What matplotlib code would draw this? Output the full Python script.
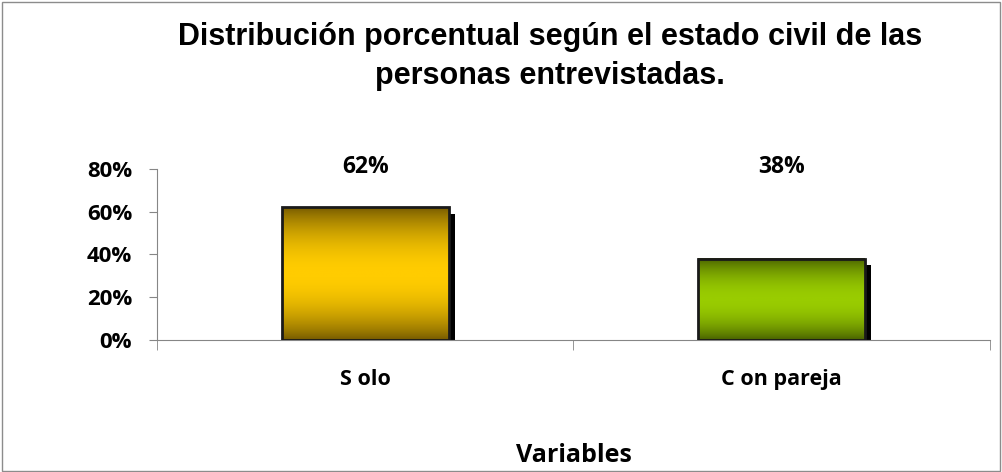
import matplotlib
matplotlib.use("Agg")
import matplotlib.pyplot as plt
import matplotlib.patheffects as pe
from matplotlib.colors import LinearSegmentedColormap
from matplotlib.patches import Rectangle
import numpy as np

# datos
categorias = ["S olo", "C on pareja"]
valores = [0.62, 0.38]
etiquetas = ["62%", "38%"]
yticks = [0, 0.2, 0.4, 0.6, 0.8]
yticklabels = ["0%", "20%", "40%", "60%", "80%"]
titulo = ["Distribución porcentual según el estado civil de las", "personas entrevistadas."]

colores = [("#735800", "#ffcc00"), ("#465e00", "#99cc00")]

fig = plt.figure(figsize=(10.02, 4.72), dpi=100)
fig.patches.append(Rectangle((0.002, 0.002), 0.996, 0.994, transform=fig.transFigure,
                             fill=False, edgecolor="#8c8c8c", linewidth=1))
ax = fig.add_axes([0.1567, 0.2797, 0.8313, 0.3623])

x = np.arange(len(categorias))
ancho = 0.40

# sombra negra + barras
sombra = [pe.SimplePatchShadow(offset=(4.5, -4.5), shadow_rgbFace="black", alpha=1), pe.Normal()]
barras = ax.bar(x, valores, width=ancho, color="black", zorder=2, path_effects=sombra)

# degradado vertical: oscuro arriba y abajo, claro al centro
t = np.linspace(0, 1, 256)
perfil = np.sin(np.pi * t)[:, None] ** 0.8
for b, (oscuro, claro) in zip(barras, colores):
    cmap = LinearSegmentedColormap.from_list("g", [oscuro, claro])
    x0, y0 = b.get_x(), b.get_y()
    ax.imshow(perfil, cmap=cmap, aspect="auto", zorder=3,
              extent=(x0, x0 + b.get_width(), y0, y0 + b.get_height()), origin="lower")
ax.bar(x, valores, width=ancho, facecolor="none", edgecolor="#1a1a1a", linewidth=2, zorder=4)

for xi, et in zip(x, etiquetas):
    ax.text(xi, 0.81, et, ha="center", va="center", fontsize=16.5, fontweight="bold",
            family="Open Sans", clip_on=False)

ax.set_xlim(-0.5, 1.5)
ax.set_ylim(0, 0.8)
ax.set_yticks(yticks)
ax.set_yticklabels(yticklabels, fontsize=16, fontweight="bold", family="Open Sans")
ax.set_xticks(x)
ax.set_xticklabels(categorias, fontsize=15.5, fontweight="bold", family="Open Sans")
ax.set_xticks([-0.5, 0.5, 1.5], minor=True)
ax.tick_params(axis="x", which="major", length=0, pad=21)
ax.tick_params(axis="x", which="minor", length=7, color="#868686")
ax.tick_params(axis="y", length=6, color="#868686", pad=12)
for s in ["top", "right"]:
    ax.spines[s].set_visible(False)
for s in ["left", "bottom"]:
    ax.spines[s].set_color("#868686")
ax.set_xlabel("Variables", fontsize=18, fontweight="bold", family="Open Sans", labelpad=38)

fig.text(0.549, 1 - 45 / 472, titulo[0], ha="center", va="baseline", fontsize=22,
         fontweight="bold", family="Liberation Sans")
fig.text(0.549, 1 - 84 / 472, titulo[1], ha="center", va="baseline", fontsize=22,
         fontweight="bold", family="Liberation Sans")

fig.savefig("out.png", dpi=100)
